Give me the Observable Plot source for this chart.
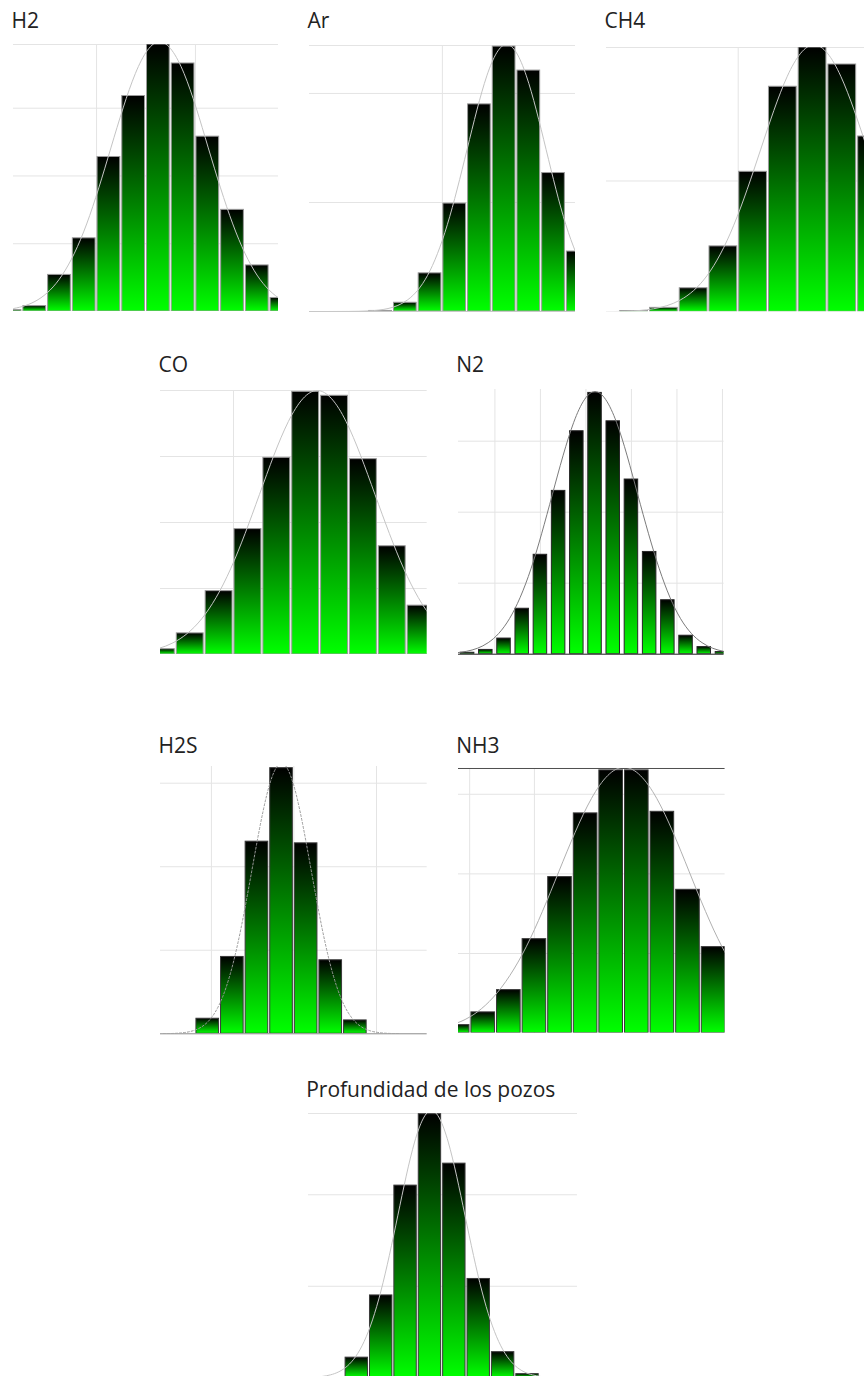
<!DOCTYPE html>
<html>
<head>
<meta charset="utf-8">
<script src="https://cdn.jsdelivr.net/npm/d3@7"></script>
<script src="https://cdn.jsdelivr.net/npm/@observablehq/plot@0.6"></script>
<style>
  html, body { margin: 0; padding: 0; background: #fff; overflow: hidden; }
  #page { position: relative; width: 864px; height: 1376px; overflow: hidden; font-family: "Open Sans", sans-serif; }
  .title { position: absolute; font-size: 21px; line-height: 1; color: #222222; white-space: nowrap; }
  .panel { position: absolute; }
  .panel svg { display: block; max-width: none; }
</style>
</head>
<body>
<svg width="0" height="0" style="position:absolute">
  <defs>
    <linearGradient id="barGradient" x1="0" y1="0" x2="0" y2="1">
      <stop offset="0" stop-color="#000000"/>
      <stop offset="1" stop-color="#00ff00"/>
    </linearGradient>
  </defs>
</svg>
<div id="page"></div>
<script>
// ---- Histogram frequencies (one value per bin, bins are one unit wide) ----
const h2Counts   = [1, 4, 27, 54, 114, 159, 197, 183, 129, 75, 34, 10];
const arCounts   = [0, 0, 0, 0.5, 8, 35, 99, 190, 243, 221, 127, 55];
const ch4Counts  = [0.6, 3, 18, 50, 107, 172, 202, 189, 134];
const coCounts   = [4, 16, 48, 95, 149, 199, 196, 148, 82, 37];
const n2Counts   = [1, 3, 11, 32, 70, 115, 157, 184, 164, 123, 72, 38, 13, 5, 1.5];
const h2sCounts  = [9, 46, 115, 159, 114, 44, 8];
const nh3Counts  = [5, 13, 27, 59, 98, 138, 165, 165, 139, 90, 54, 30];
const profCounts = [11, 45, 105, 144, 117, 54, 14, 2];

// ---- Fitted normal curves (x in bin units, y in frequency) ----
const h2CurveX   = [-0.35, 0.64, 1.63, 2.61, 3.60, 4.58, 5.57, 6.55, 7.54, 8.52, 9.51, 10.49, 11.48, 12.46];
const h2CurveY   = [0.45, 2.2, 8.7, 26.9, 64.6, 120.7, 175.6, 199, 175.6, 120.7, 64.6, 26.9, 8.7, 2.2];
const arCurveX   = [0.6, 1.4, 2.2, 3.0, 3.8, 4.6, 5.4, 6.2, 7.0, 7.8, 8.6, 9.4, 10.2, 11.0, 11.8];
const arCurveY   = [0, 0.01, 0.08, 0.53, 2.7, 10.8, 33.1, 79.6, 148.6, 216.2, 245, 216.2, 148.6, 79.6, 33.1];
const ch4CurveX  = [-0.65, 0.25, 1.15, 2.05, 2.95, 3.85, 4.75, 5.65, 6.55, 7.45, 8.35, 9.25, 10.15, 11.05];
const ch4CurveY  = [0.07, 0.45, 2.3, 9.0, 27.6, 66.2, 123.7, 180.0, 204, 180.0, 123.7, 66.2, 27.6, 9.0];
const coCurveX   = [-1.1, -0.1, 0.9, 1.9, 2.9, 3.9, 4.9, 5.9, 6.9, 7.9, 8.9, 9.9, 10.9];
const coCurveY   = [0.44, 2.2, 8.8, 27.1, 64.9, 121.3, 176.5, 200, 176.5, 121.3, 64.9, 27.1, 8.8];
const n2CurveX   = [-1.23, -0.05, 1.13, 2.3, 3.48, 4.65, 5.83, 7.0, 8.18, 9.35, 10.53, 11.7, 12.88, 14.05, 15.23];
const n2CurveY   = [0.4, 2.05, 8.1, 25.0, 60.1, 112.2, 163.3, 185, 163.3, 112.2, 60.1, 25.0, 8.1, 2.05, 0.4];
const h2sCurveX  = [-1.3, -0.7, -0.1, 0.5, 1.1, 1.7, 2.3, 2.9, 3.5, 4.1, 4.7, 5.3, 5.9, 6.5, 7.1, 7.7, 8.3];
const h2sCurveY  = [0.05, 0.36, 1.8, 7.1, 21.9, 52.6, 98.3, 143.0, 162, 143.0, 98.3, 52.6, 21.9, 7.1, 1.8, 0.36, 0.05];
const nh3CurveX  = [-0.65, 0.63, 1.9, 3.18, 4.45, 5.73, 7.0, 8.28, 9.55, 10.83, 12.1];
const nh3CurveY  = [1.85, 7.3, 22.6, 54.2, 101.3, 147.4, 167, 147.4, 101.3, 54.2, 22.6];
const profCurveX = [-1.96, -1.27, -0.58, 0.11, 0.8, 1.49, 2.18, 2.87, 3.56, 4.25, 4.94, 5.63, 6.32, 7.01, 7.7, 8.39, 9.08];
const profCurveY = [0.05, 0.32, 1.6, 6.4, 19.8, 47.4, 88.5, 128.8, 146, 128.8, 88.5, 47.4, 19.8, 6.4, 1.6, 0.32, 0.05];

// ---- Panel titles ----
const titles = ["H2", "Ar", "CH4", "CO", "N2", "H2S", "NH3", "Profundidad de los pozos"];

// ---- Layout and styling of each small histogram ----
const GRID = "#e4e4e4";
const panels = [
  {title: titles[0], counts: h2Counts, binStart: 0, cx: h2CurveX, cy: h2CurveY,
   xDomain: [0.64, 11.36], yMax: 197, yGrid: [50, 100, 150], xGrid: [4, 8],
   topLine: GRID, baseLine: null, barStroke: "#9a9a9a", inset: 1, curveColor: "#c4c4c4", dash: null,
   left: 13, top: 44, width: 265, height: 267, titleBase: 29},
  {title: titles[1], counts: arCounts, binStart: 0, cx: arCurveX, cy: arCurveY,
   xDomain: [0.62, 11.39], yMax: 244, yGrid: [100, 200], xGrid: [6],
   topLine: GRID, baseLine: "#c8c8c8", barStroke: "#9a9a9a", inset: 1, curveColor: "#c4c4c4", dash: null,
   left: 309, top: 45, width: 266, height: 266, titleBase: 29},
  {title: titles[2], counts: ch4Counts, binStart: 0, cx: ch4CurveX, cy: ch4CurveY,
   xDomain: [-0.43, 10.5], yMax: 202, yGrid: [100], xGrid: [4],
   topLine: GRID, baseLine: null, barStroke: "#9a9a9a", inset: 1, curveColor: "#c4c4c4", dash: null,
   left: 606, top: 46.7, width: 325, height: 264.3, titleBase: 29},
  {title: titles[3], counts: coCounts, binStart: 0, cx: coCurveX, cy: coCurveY,
   xDomain: [0.47, 9.71], yMax: 200, yGrid: [50, 100, 150, 200], xGrid: [3, 7],
   topLine: null, baseLine: null, barStroke: "#9a9a9a", inset: 1, curveColor: "#c4c4c4", dash: null,
   left: 160, top: 390, width: 266.7, height: 264, titleBase: 373},
  {title: titles[4], counts: n2Counts, binStart: -0.5, cx: n2CurveX, cy: n2CurveY,
   xDomain: [-0.5, 14.09], yMax: 186.4, yGrid: [50, 100, 150], xGrid: [1.5, 4, 6.5, 9, 11.5, 14],
   topLine: null, baseLine: "#1a1a1a", barStroke: "#262626", inset: 2.35, curveColor: "#7a7a7a", dash: null,
   left: 457.7, top: 389.3, width: 265.6, height: 264.7, titleBase: 373},
  {title: titles[5], counts: h2sCounts, binStart: 0, cx: h2sCurveX, cy: h2sCurveY,
   xDomain: [-1.42, 9.42], yMax: 160, yGrid: [50, 100, 150], xGrid: [0.65, 4.0, 7.36],
   topLine: null, baseLine: "#8c8c8c", barStroke: "#3a3a3a", inset: 1, curveColor: "#9a9a9a", dash: "2,2",
   left: 160, top: 766, width: 266.7, height: 267.3, titleBase: 754},
  {title: titles[6], counts: nh3Counts, binStart: 0, cx: nh3CurveX, cy: nh3CurveY,
   xDomain: [0.534, 10.95], yMax: 166.2, yGrid: [50, 100, 150], xGrid: [0.97, 3.5, 6.0],
   topLine: "#4d4d4d", baseLine: null, barStroke: "#3a3a3a", inset: 1, curveColor: "#b0b0b0", dash: null,
   left: 457.7, top: 767.7, width: 266.6, height: 264.6, titleBase: 754},
  {title: titles[7], counts: profCounts, binStart: 0, cx: profCurveX, cy: profCurveY,
   xDomain: [-1.48, 9.55], yMax: 144.4, yGrid: [50, 100], xGrid: [],
   topLine: GRID, baseLine: null, barStroke: "#3a3a3a", inset: 1, curveColor: "#c4c4c4", dash: null,
   left: 307.7, top: 1112.7, width: 269, height: 264.3, titleBase: 1097.7}
];

const page = document.getElementById("page");
const M = 2; // small margin so edge strokes are not cut

function drawPanel(p) {
  const bins = p.counts.map((c, i) => ({x1: p.binStart + i, x2: p.binStart + i + 1, base: 0, count: c}))
    .filter(d => d.count > 0);
  const curve = p.cx.map((x, i) => ({x, y: p.cy[i]}));

  const marks = [
    Plot.ruleY(p.yGrid, {stroke: GRID, strokeWidth: 1}),
    Plot.ruleX(p.xGrid, {stroke: GRID, strokeWidth: 1})
  ];
  if (p.topLine) marks.push(Plot.ruleY([p.yMax], {stroke: p.topLine, strokeWidth: 1}));
  marks.push(Plot.rect(bins, {
    x1: "x1", x2: "x2", y1: "base", y2: "count",
    fill: "url(#barGradient)", stroke: p.barStroke, strokeWidth: 1,
    insetLeft: p.inset, insetRight: p.inset, clip: true
  }));
  marks.push(Plot.line(curve, {
    x: "x", y: "y", curve: "natural", stroke: p.curveColor, strokeWidth: 1,
    strokeDasharray: p.dash || undefined, clip: true
  }));
  if (p.baseLine) marks.push(Plot.ruleY([0], {stroke: p.baseLine, strokeWidth: 1}));

  const svg = Plot.plot({
    width: p.width + 2 * M,
    height: p.height + 2 * M,
    marginTop: M, marginRight: M, marginBottom: M, marginLeft: M,
    x: {domain: p.xDomain, axis: null},
    y: {domain: [0, p.yMax], axis: null},
    marks
  });

  const holder = document.createElement("div");
  holder.className = "panel";
  holder.style.left = (p.left - M) + "px";
  holder.style.top = (p.top - M) + "px";
  holder.style.width = (p.width + 2 * M) + "px";
  holder.appendChild(svg);
  page.appendChild(holder);

  const t = document.createElement("div");
  t.className = "title";
  t.textContent = p.title;
  t.style.left = (p.left - 1.5) + "px";
  t.style.top = (p.titleBase - 18.65) + "px";
  page.appendChild(t);
}

panels.forEach(drawPanel);
</script>
</body>
</html>
